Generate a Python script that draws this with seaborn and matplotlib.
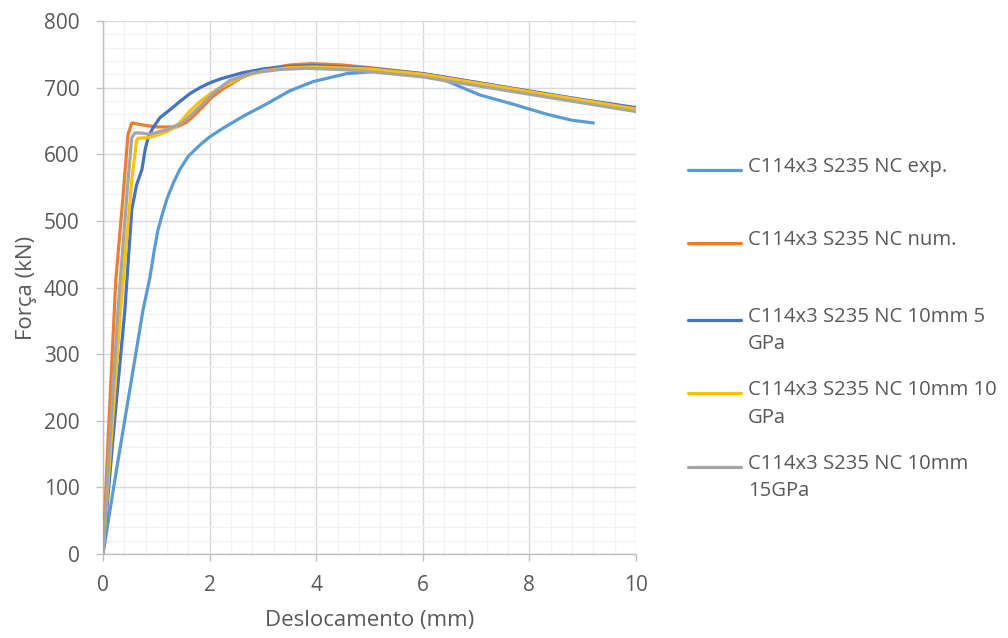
import numpy as np
import pandas as pd
import matplotlib
matplotlib.use("Agg")
import matplotlib.pyplot as plt
from matplotlib.ticker import MultipleLocator
from matplotlib.lines import Line2D
import seaborn as sns

# Force-displacement curves (displacement in mm, force in kN)
exp_x = [0, 0.25, 0.5, 0.75, 0.88, 0.96, 1.03, 1.12, 1.2, 1.32, 1.44, 1.6, 1.82, 2.0,
         2.25, 2.63, 3.08, 3.5, 3.94, 4.57, 5.07, 5.5, 6.0, 6.45, 6.8, 7.07, 7.7,
         8.33, 8.8, 9.2]
exp_y = [0, 125, 245, 366, 415, 455, 486, 512, 533, 557, 577, 597, 614, 626,
         639, 657, 676, 695, 709, 721, 724, 723, 718, 710, 698, 689, 675,
         660, 651, 647]

num_x = [0, 0.1, 0.24, 0.37, 0.47, 0.54, 0.75, 1.0, 1.38, 1.57, 1.76, 1.88, 2.05,
         2.25, 2.6, 3.0, 3.5, 3.9, 4.5, 5.0, 6.0, 7.0, 8.0, 9.0, 10.0]
num_y = [0, 180, 411, 531, 630, 647, 644, 641, 641, 648, 662, 672, 686,
         698, 715, 727, 734, 736, 734, 730, 721, 708, 694, 681, 668]

g5_x = [0, 0.2, 0.41, 0.54, 0.63, 0.73, 0.79, 0.85, 0.94, 1.07, 1.26, 1.44, 1.63,
        1.82, 2.0, 2.2, 2.6, 3.0, 3.5, 4.0, 5.0, 6.0, 7.0, 8.0, 9.0, 10.0]
g5_y = [0, 185, 366, 517, 554, 577, 607, 626, 640, 655, 667, 679, 691,
        700, 707, 713, 722, 728, 732, 733, 729, 721, 708, 695, 682, 670]

g10_x = [0, 0.33, 0.54, 0.63, 0.66, 0.85, 1.03, 1.2, 1.38, 1.5, 1.63, 1.82, 2.0,
         2.2, 2.6, 3.0, 3.5, 4.0, 5.0, 6.0, 7.0, 8.0, 9.0, 10.0]
g10_y = [0, 366, 561, 621, 624, 625, 629, 634, 642, 653, 665, 679, 690,
         700, 716, 725, 730, 731, 728, 720, 707, 694, 681, 668]

g15_x = [0, 0.28, 0.47, 0.54, 0.6, 0.7, 0.88, 1.2, 1.5, 1.65, 1.82, 2.1, 2.38,
         2.8, 3.3, 3.8, 4.5, 5.0, 6.0, 7.0, 8.0, 9.0, 10.0]
g15_y = [0, 366, 561, 625, 632, 632, 630, 637, 648, 659, 672, 694, 711,
         722, 727, 729, 727, 724, 716, 703, 690, 677, 664]

series_labels = [
    "C114x3 S235 NC exp.",
    "C114x3 S235 NC num.",
    "C114x3 S235 NC 10mm 5\nGPa",
    "C114x3 S235 NC 10mm 10\nGPa",
    "C114x3 S235 NC 10mm\n15GPa",
]
series_colors = ["#5B9BD5", "#ED7D31", "#4472C4", "#FFC000", "#A5A5A5"]

x_ticks = [0, 2, 4, 6, 8, 10]
y_ticks = [0, 100, 200, 300, 400, 500, 600, 700, 800]

frames = []
for lab, xs, ys in zip(series_labels,
                       [exp_x, num_x, g5_x, g10_x, g15_x],
                       [exp_y, num_y, g5_y, g10_y, g15_y]):
    frames.append(pd.DataFrame({"x": xs, "y": ys, "serie": lab}))
df = pd.concat(frames, ignore_index=True)

sns.set_theme(style="white")
plt.rcParams["font.family"] = ["Open Sans", "DejaVu Sans"]
text_color = "#595959"

fig = plt.figure(figsize=(10.08, 6.38), dpi=100)
ax = fig.add_axes([103 / 1008, 1 - 554 / 638, (636 - 103) / 1008, (554 - 21) / 638])

sns.lineplot(data=df, x="x", y="y", hue="serie", hue_order=series_labels,
             palette=series_colors, sort=False, estimator=None,
             linewidth=2.3, legend=False, ax=ax, zorder=3)

ax.set_xlim(0, 10)
ax.set_ylim(0, 800)
ax.set_xticks(x_ticks)
ax.set_yticks(y_ticks)
ax.xaxis.set_minor_locator(MultipleLocator(0.4))
ax.yaxis.set_minor_locator(MultipleLocator(20))
ax.grid(which="minor", color="#F2F2F2", linewidth=1.0, zorder=0)
ax.grid(which="major", color="#D9D9D9", linewidth=1.0, zorder=1)
ax.set_axisbelow(True)
for s in ["top", "right"]:
    ax.spines[s].set_visible(False)
for s in ["left", "bottom"]:
    ax.spines[s].set_color("#BFBFBF")
    ax.spines[s].set_linewidth(1.0)

ax.tick_params(which="major", direction="out", length=5, width=1.0, color="#BFBFBF",
               labelsize=15, labelcolor=text_color)
ax.tick_params(axis="y", which="major", pad=12, left=True)
ax.tick_params(axis="x", which="major", pad=10, bottom=True)
ax.tick_params(which="minor", length=0)

ax.set_xlabel("Deslocamento (mm)", fontsize=16, color=text_color, labelpad=10)
ax.set_ylabel("Força (kN)", fontsize=16, color=text_color, labelpad=5)

# Legend drawn to the right of the plot area
leg_y = [170, 243, 320, 393, 467]
for lab, col, yp in zip(series_labels, series_colors, leg_y):
    yf = 1 - yp / 638
    fig.add_artist(Line2D([688 / 1008, 741 / 1008], [yf, yf], color=col,
                          linewidth=2.3, transform=fig.transFigure))
    fig.text(748 / 1008, yf + 13 / 638, lab, fontsize=14.6, color=text_color,
             ha="left", va="top", linespacing=1.5, transform=fig.transFigure)

fig.savefig("out.png", dpi=100, facecolor="white")
